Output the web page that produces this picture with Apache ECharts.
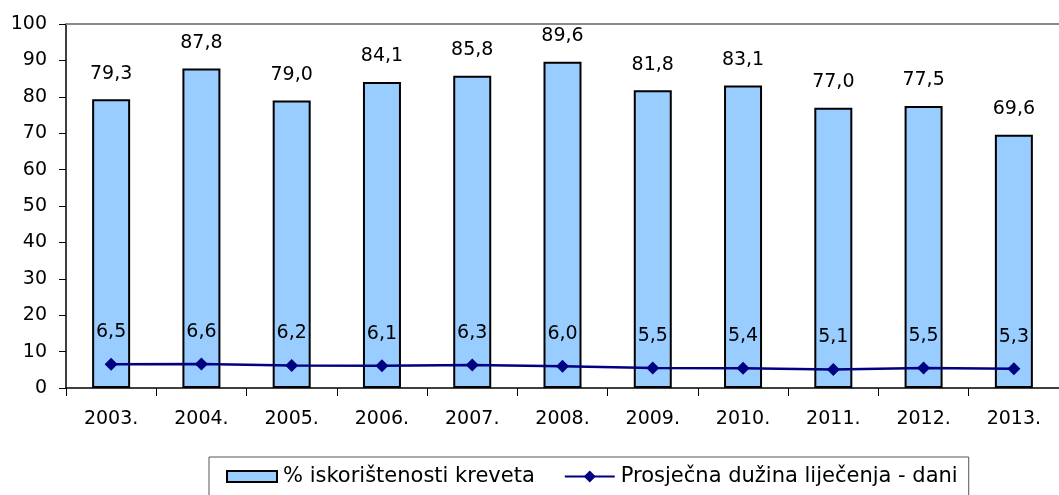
<!DOCTYPE html>
<html>
<head>
<meta charset="utf-8">
<script src="https://cdn.jsdelivr.net/npm/echarts@6/dist/echarts.min.js"></script>
<style>
  html, body { margin: 0; padding: 0; background: #fff; }
  #chart { width: 1059px; height: 495px; }
</style>
</head>
<body>
<div id="chart"></div>
<script>
// Years on the category axis
const years = ['2003.', '2004.', '2005.', '2006.', '2007.', '2008.', '2009.', '2010.', '2011.', '2012.', '2013.'];
// Bed occupancy (%)
const occupancy = [79.3, 87.8, 79.0, 84.1, 85.8, 89.6, 81.8, 83.1, 77.0, 77.5, 69.6];
// Average length of treatment (days)
const avgStay = [6.5, 6.6, 6.2, 6.1, 6.3, 6.0, 5.5, 5.4, 5.1, 5.5, 5.3];
// Value axis ticks
const yTicks = [0, 10, 20, 30, 40, 50, 60, 70, 80, 90, 100];

const seriesNames = ['% iskorištenosti kreveta', 'Prosječna dužina liječenja - dani'];

const FONT = 'DejaVu Sans';
const fmt = v => v.toFixed(1).replace('.', ',');

const chart = echarts.init(document.getElementById('chart'), null, { renderer: 'canvas' });

chart.setOption({
  animation: false,
  backgroundColor: '#ffffff',
  textStyle: { fontFamily: FONT, color: '#000' },
  grid: { left: 66, top: 24, right: -8, bottom: 107, containLabel: false },
  legend: {
    data: [
      // flat rectangular key for the bars
      { name: seriesNames[0], icon: 'path://M0,0h50v11h-50z' },
      { name: seriesNames[1] }
    ],
    left: 209,
    top: 457,
    orient: 'horizontal',
    padding: [9, 11, 20, 17],
    itemGap: 29,
    itemWidth: 50,
    itemHeight: 15,
    symbolKeepAspect: true,
    borderColor: '#555',
    borderWidth: 1,
    textStyle: { fontFamily: FONT, fontSize: 21, color: '#000', padding: [0, 0, 0, 1] }
  },
  xAxis: [
    {
      type: 'category',
      data: years,
      boundaryGap: true,
      axisLine: { show: true, lineStyle: { color: '#000', width: 1.5 } },
      axisTick: { show: true, length: 8, alignWithLabel: false, lineStyle: { color: '#000', width: 1 } },
      axisLabel: { fontFamily: FONT, fontSize: 19, color: '#000', margin: 22 },
      splitLine: { show: false }
    },
    {
      // plain rule along the top of the plot area
      type: 'category',
      data: years,
      position: 'top',
      axisLine: { show: true, lineStyle: { color: '#8a8a8a', width: 2 } },
      axisTick: { show: false },
      axisLabel: { show: false },
      splitLine: { show: false }
    }
  ],
  yAxis: {
    type: 'value',
    min: yTicks[0],
    max: yTicks[yTicks.length - 1],
    interval: yTicks[1] - yTicks[0],
    axisLine: { show: true, lineStyle: { color: '#000', width: 1.5 } },
    axisTick: { show: true, length: 7, lineStyle: { color: '#000', width: 1 } },
    axisLabel: { fontFamily: FONT, fontSize: 19, color: '#000', margin: 19 },
    splitLine: { show: false }
  },
  series: [
    {
      name: seriesNames[0],
      type: 'bar',
      data: occupancy,
      barWidth: 38,
      itemStyle: { color: '#99ccff', borderColor: '#000', borderWidth: 2 },
      label: {
        show: true,
        position: 'top',
        distance: 16,
        fontFamily: FONT,
        fontSize: 19,
        color: '#000',
        formatter: p => fmt(p.value)
      },
      z: 2
    },
    {
      name: seriesNames[1],
      type: 'line',
      data: avgStay,
      symbol: 'diamond',
      symbolSize: 13,
      lineStyle: { color: '#000080', width: 2.5 },
      itemStyle: { color: '#000080' },
      label: {
        show: true,
        position: 'top',
        distance: 16,
        fontFamily: FONT,
        fontSize: 19,
        color: '#000',
        formatter: p => fmt(p.value)
      },
      z: 3
    }
  ]
});
</script>
</body>
</html>
